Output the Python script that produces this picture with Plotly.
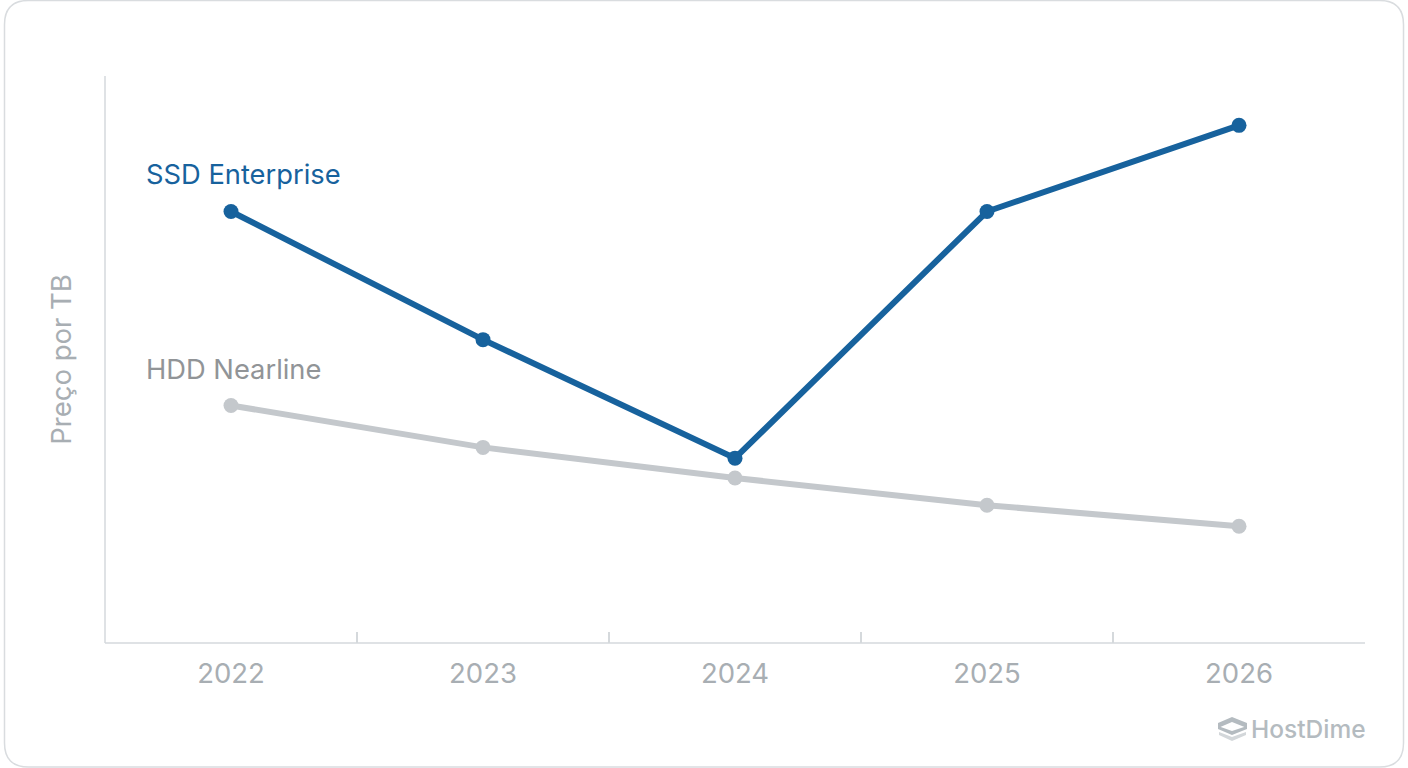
import plotly.graph_objects as go

W, H = 1408, 768

anos = ["2022", "2023", "2024", "2025", "2026"]
ssd_enterprise = [76.1, 53.5, 32.6, 76.1, 91.3]
hdd_nearline = [41.9, 34.5, 29.1, 24.3, 20.6]

AZUL = "#17629d"
CINZA_LINHA = "#c4c8cc"
CINZA_EIXO = "#d5d9dc"
CINZA_TEXTO = "#a8aeb3"
CINZA_ROTULO = "#919497"
CINZA_LOGO = "#b4bbc0"
FONTE = "Inter"


def fx(x):
    return (x - 105) / (W - 105 - 43)


def fy(y):
    return (643 - y) / (643 - 76)


def px(x, y):
    # pixel da pagina -> coordenadas paper
    return f"{fx(x):.5f},{fy(y):.5f}"


def caminho(pontos):
    return "M" + " L".join(px(x, y) for x, y in pontos) + " Z"


def cartao(x0, y0, x1, y1, r):
    return (
        f"M{px(x0 + r, y0)} L{px(x1 - r, y0)} Q{px(x1, y0)} {px(x1, y0 + r)} "
        f"L{px(x1, y1 - r)} Q{px(x1, y1)} {px(x1 - r, y1)} "
        f"L{px(x0 + r, y1)} Q{px(x0, y1)} {px(x0, y1 - r)} "
        f"L{px(x0, y0 + r)} Q{px(x0, y0)} {px(x0 + r, y0)} Z"
    )


fig = go.Figure()

fig.add_trace(go.Scatter(
    x=anos, y=hdd_nearline, mode="lines+markers", name="HDD Nearline",
    line=dict(color=CINZA_LINHA, width=6),
    marker=dict(color=CINZA_LINHA, size=15),
))
fig.add_trace(go.Scatter(
    x=anos, y=ssd_enterprise, mode="lines+markers", name="SSD Enterprise",
    line=dict(color=AZUL, width=6),
    marker=dict(color=AZUL, size=15),
))

# no eixo de categorias a anotacao usa o indice, nao o rotulo
fig.add_annotation(
    x=0, y=ssd_enterprise[0], text="SSD Enterprise", showarrow=False,
    xanchor="left", xshift=-87, yshift=37,
    font=dict(family=FONTE, size=27.3, color=AZUL),
)
fig.add_annotation(
    x=0, y=hdd_nearline[0], text="HDD Nearline", showarrow=False,
    xanchor="left", xshift=-87, yshift=36,
    font=dict(family=FONTE, size=27.3, color=CINZA_ROTULO),
)

# marca d'agua
fig.add_annotation(
    xref="paper", yref="paper", x=fx(1368), y=fy(729),
    text="HostDime", showarrow=False, xanchor="right", yanchor="middle",
    font=dict(family=FONTE, size=24.5, color=CINZA_LOGO, weight=500),
)

eixo = dict(color=CINZA_EIXO, width=1.5)
formas = [
    dict(type="path", path=cartao(4.5, 0.5, 1403.5, 767, 24), xref="paper", yref="paper",
         line=dict(color="#d9dcdf", width=1.5), fillcolor="white", layer="below"),
    dict(type="line", xref="paper", yref="paper", x0=0, x1=0, y0=0, y1=1, line=eixo),
    dict(type="line", xref="paper", yref="paper", x0=0, x1=1, y0=0, y1=0, line=eixo),
    dict(type="path", path=caminho([(1218, 723), (1232, 717), (1247, 723), (1247, 728), (1232, 722),
                                    (1218, 728)]),
         xref="paper", yref="paper", line=dict(width=0), fillcolor=CINZA_LOGO),
    dict(type="path", path=caminho([(1218, 726), (1232, 731), (1247, 726), (1247, 729), (1232, 735),
                                    (1218, 729)]),
         xref="paper", yref="paper", line=dict(width=0), fillcolor=CINZA_LOGO),
    dict(type="path", path=caminho([(1219, 732), (1232, 737), (1246, 732), (1246, 735), (1232, 741),
                                    (1219, 735)]),
         xref="paper", yref="paper", line=dict(width=0), fillcolor="#d3d7da"),
]

fig.update_layout(
    width=W, height=H,
    margin=dict(l=105, r=43, t=76, b=125),
    paper_bgcolor="white", plot_bgcolor="rgba(0,0,0,0)",
    showlegend=False,
    shapes=formas,
    font=dict(family=FONTE),
    xaxis=dict(
        type="category", range=[-0.5, 4.5], tickson="boundaries",
        ticks="inside", ticklen=11, tickwidth=1.5, tickcolor=CINZA_EIXO,
        showgrid=False, zeroline=False, showline=False, ticklabelstandoff=11,
        tickfont=dict(family=FONTE, size=27.5, color=CINZA_TEXTO, weight=400),
    ),
    yaxis=dict(
        range=[0, 100], showticklabels=False, ticks="", showgrid=False, zeroline=False,
        showline=False,
        title=dict(text="Preço por TB", standoff=24,
                   font=dict(family=FONTE, size=27.5, color=CINZA_TEXTO, weight=400)),
    ),
)

fig.write_html("out.html", config=dict(displayModeBar=False),
               post_script="document.body.style.margin='0';")
